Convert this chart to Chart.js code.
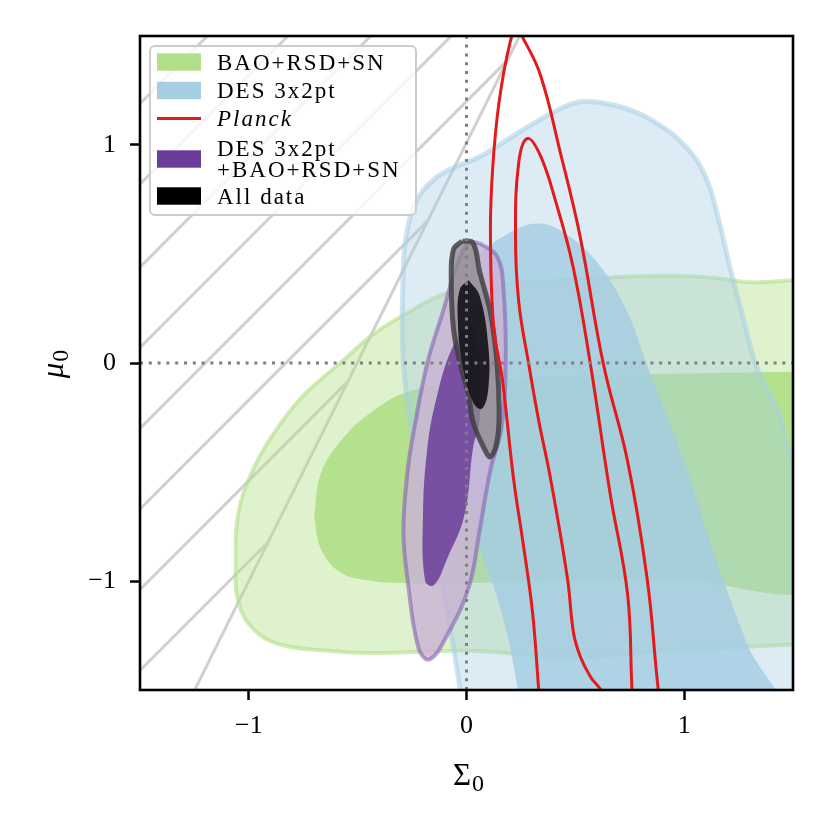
<!DOCTYPE html>
<html>
<head>
<meta charset="utf-8">
<script src="https://cdn.jsdelivr.net/npm/chart.js@4.4.1/dist/chart.umd.min.js"></script>
<style>
  html, body { margin: 0; padding: 0; background: #fff; }
  #wrap { width: 830px; height: 830px; }
</style>
</head>
<body>
<div id="wrap"><canvas id="plot"></canvas></div>
<script>
// axes
const axisRange = [-1.5, 1.5];
const xTicks = [-1, 0, 1];
const yTicks = [-1, 0, 1];
const tickLabels = ['\u22121', '0', '1'];

const seriesNames = ['BAO+RSD+SN', 'DES 3x2pt', 'Planck', 'DES 3x2pt\n+BAO+RSD+SN', 'All data'];

// excluded region: edge mu = a*Sigma + b, hatch lines mu = Sigma + k
const priorEdge = [2.01, 1.01];
const hatchOffsets = [2.69, 2.32, 1.94, 1.57, 1.20, 0.83, 0.46, 0.09];

// contour vertices [Sigma0, mu0]
const baoOuter = [[-0.58,0.00],[-0.75,-0.15],[-0.89,-0.33],[-0.99,-0.51],[-1.05,-0.70],[-1.06,-0.91],[-1.05,-1.09],[-0.98,-1.22],[-0.86,-1.29],[-0.64,-1.32],[-0.43,-1.33],[0.02,-1.32],[0.46,-1.35],[0.92,-1.32],[1.52,-1.29],[1.65,-1.28],[1.65,0.38],[1.52,0.38],[1.30,0.37],[1.15,0.39],[0.92,0.40],[0.61,0.39],[0.31,0.37],[0.00,0.34],[-0.12,0.31],[-0.27,0.23],[-0.43,0.13]];
const baoInner = [[-0.70,-0.70],[-0.67,-0.51],[-0.58,-0.36],[-0.43,-0.22],[-0.26,-0.13],[0.00,-0.09],[0.46,-0.06],[0.92,-0.05],[1.52,-0.04],[1.65,-0.04],[1.65,-0.99],[0.92,-0.99],[0.00,-1.01],[-0.27,-1.01],[-0.43,-1.00],[-0.58,-0.96],[-0.67,-0.85]];

const desOuter = [[-0.02,-1.60],[-0.03,-1.49],[-0.12,-0.97],[-0.20,-0.64],[-0.24,-0.39],[-0.29,0.00],[-0.29,0.44],[-0.27,0.62],[-0.22,0.76],[-0.14,0.85],[-0.05,0.90],[0.05,0.94],[0.15,1.00],[0.31,1.10],[0.46,1.18],[0.54,1.20],[0.69,1.18],[0.84,1.12],[1.00,1.00],[1.10,0.85],[1.16,0.65],[1.21,0.44],[1.27,0.21],[1.33,-0.01],[1.43,-0.22],[1.50,-0.44],[1.65,-0.62],[1.65,-1.60]];
const desInner = [[0.05,0.49],[0.15,0.57],[0.32,0.64],[0.46,0.59],[0.61,0.45],[0.74,0.23],[0.83,-0.01],[1.00,-0.45],[1.15,-0.91],[1.29,-1.29],[1.42,-1.60],[0.24,-1.60],[0.235,-1.49],[0.16,-1.14],[0.05,-0.80],[0.00,-0.50],[-0.01,0.00],[0.00,0.34]];

const planckOuter = [[0.34,-1.63],[0.331,-1.49],[0.303,-1.14],[0.262,-0.84],[0.216,-0.53],[0.164,-0.07],[0.125,0.16],[0.11,0.59],[0.12,0.89],[0.15,1.20],[0.20,1.47],[0.23,1.53],[0.26,1.49],[0.34,1.32],[0.43,0.97],[0.52,0.59],[0.63,-0.01],[0.74,-0.45],[0.83,-0.99],[0.88,-1.49],[0.90,-1.63]];
const planckInner = [[0.66,-1.56],[0.611,-1.49],[0.57,-1.44],[0.524,-1.35],[0.492,-1.24],[0.464,-0.99],[0.386,-0.53],[0.331,-0.26],[0.285,0.00],[0.24,0.28],[0.225,0.59],[0.24,0.92],[0.28,1.03],[0.34,0.95],[0.41,0.74],[0.49,0.44],[0.57,-0.01],[0.66,-0.60],[0.74,-1.06],[0.76,-1.49],[0.77,-1.63]];

const comboOuter = [[0.06,0.55],[0.14,0.49],[0.17,0.34],[0.18,0.00],[0.16,-0.30],[0.11,-0.49],[0.06,-0.77],[0.01,-1.03],[-0.09,-1.25],[-0.17,-1.36],[-0.22,-1.31],[-0.27,-1.00],[-0.29,-0.77],[-0.27,-0.49],[-0.24,-0.30],[-0.18,0.00],[-0.11,0.23],[-0.04,0.46],[0.01,0.55]];
const comboInner = [[0.02,0.20],[0.06,0.00],[0.06,-0.26],[0.03,-0.39],[-0.01,-0.70],[-0.09,-0.90],[-0.15,-1.02],[-0.19,-1.00],[-0.20,-0.70],[-0.18,-0.39],[-0.14,-0.17],[-0.07,0.06]];

const allOuter = [[-0.02,0.56],[0.03,0.55],[0.06,0.42],[0.11,0.23],[0.14,0.00],[0.15,-0.22],[0.14,-0.36],[0.11,-0.43],[0.08,-0.39],[0.03,-0.27],[0.01,-0.15],[-0.03,0.00],[-0.06,0.16],[-0.07,0.38],[-0.06,0.52]];
const allInner = [[0.01,0.38],[0.06,0.31],[0.10,0.08],[0.10,-0.12],[0.07,-0.21],[0.03,-0.18],[-0.02,0.00],[-0.04,0.20],[-0.03,0.34]];

const FONT = '"Liberation Serif", "DejaVu Serif", serif';
const legendColors = ['#b2df8a', '#a6cee3', '#e31a1c', '#6a3d9a', '#000000'];

const toXY = pts => pts.map(([x, y]) => ({x, y}));

function shape(pts, fillColor, lineColor, lineWidth, label) {
  return {
    label: label || '',
    data: toXY(pts.concat([pts[0]])),
    fill: 'shape',
    backgroundColor: fillColor,
    borderColor: lineColor || 'rgba(0,0,0,0)',
    borderWidth: lineWidth || 0,
    tension: 0.4
  };
}
function curve(pts, color, width, extra) {
  return Object.assign({
    data: toXY(pts),
    fill: false,
    borderColor: color,
    borderWidth: width,
    tension: 0.4
  }, extra || {});
}

// bottom to top
const layers = [];
hatchOffsets.forEach(k => {
  const xEnd = (k - priorEdge[1]) / (priorEdge[0] - 1);
  const xStart = axisRange[0] - 0.3;
  layers.push(curve([[xStart, xStart + k], [xEnd, xEnd + k]], '#d0d0d0', 3, {tension: 0}));
});
layers.push(curve([[(-1.7 - priorEdge[1]) / priorEdge[0], -1.7], [(1.7 - priorEdge[1]) / priorEdge[0], 1.7]], '#d0d0d0', 3, {tension: 0}));
layers.push(shape(baoOuter, 'rgba(178,223,138,0.42)', 'rgba(178,223,138,0.6)', 4, seriesNames[0]));
layers.push(shape(baoInner, 'rgba(178,223,138,0.95)'));
layers.push(shape(desOuter, 'rgba(166,206,227,0.38)', 'rgba(166,206,227,0.55)', 5, seriesNames[1]));
layers.push(shape(desInner, 'rgba(166,206,227,0.85)'));
layers.push(shape(comboOuter, 'rgba(202,178,214,0.8)', 'rgba(125,90,175,0.55)', 4, seriesNames[3]));
layers.push(shape(comboInner, 'rgba(106,61,154,0.85)'));
layers.push(shape(allOuter, 'rgba(140,138,142,0.75)', 'rgba(60,60,60,0.8)', 5, seriesNames[4]));
layers.push(shape(allInner, 'rgba(15,12,20,0.88)'));
layers.push(curve(planckOuter, '#e31a1c', 3, {label: seriesNames[2]}));
layers.push(curve(planckInner, '#e31a1c', 3));
layers.push(curve([[0, axisRange[0]], [0, axisRange[1]]], '#7f7f7f', 3, {tension: 0, borderDash: [3, 5.8]}));
layers.push(curve([[axisRange[0], 0], [axisRange[1], 0]], '#7f7f7f', 3, {tension: 0, borderDash: [3, 5.8]}));
layers.forEach((d, i) => { d.order = layers.length - i; d.clip = 0; });

const decor = {
  id: 'decor',
  afterDatasetsDraw(chart) {
    const {ctx, chartArea: a} = chart;
    ctx.save();
    ctx.strokeStyle = '#000';
    ctx.lineWidth = 2.6;
    ctx.strokeRect(a.left, a.top, a.right - a.left, a.bottom - a.top);
    ctx.restore();
  },
  afterDraw(chart) {
    const {ctx} = chart;
    ctx.save();
    // legend
    ctx.beginPath();
    ctx.roundRect(150, 46, 266, 169, 5);
    ctx.fillStyle = 'rgba(255,255,255,0.8)';
    ctx.fill();
    ctx.strokeStyle = '#cccccc';
    ctx.lineWidth = 2;
    ctx.stroke();
    const rows = [62, 90.5, 118.5, 159, 196];
    ctx.textAlign = 'left';
    ctx.textBaseline = 'alphabetic';
    if ('letterSpacing' in ctx) ctx.letterSpacing = '2px';
    seriesNames.forEach((name, i) => {
      const cy = rows[i];
      ctx.fillStyle = legendColors[i];
      if (i === 2) ctx.fillRect(157, cy - 1.5, 44, 3);
      else ctx.fillRect(157, cy - 8.7, 44, 17.4);
      ctx.fillStyle = '#000';
      ctx.font = (i === 2 ? 'italic ' : '') + '23px ' + FONT;
      const lines = name.split('\n');
      lines.forEach((t, j) => {
        const base = cy + 7.5 + (j - (lines.length - 1) / 2) * 20.5;
        ctx.fillText(t, 217, base);
      });
    });
    if ('letterSpacing' in ctx) ctx.letterSpacing = '0px';
    // axis titles
    ctx.fillStyle = '#000';
    ctx.font = '31px ' + FONT;
    const w1 = ctx.measureText('\u03A3').width;
    ctx.font = '24px ' + FONT;
    const w2 = ctx.measureText('0').width;
    const x0 = 468.5 - (w1 + w2 + 1) / 2;
    ctx.font = '31px ' + FONT;
    ctx.fillText('\u03A3', x0, 785);
    ctx.font = '24px ' + FONT;
    ctx.fillText('0', x0 + w1 + 1, 791);

    ctx.translate(63, 364);
    ctx.rotate(-Math.PI / 2);
    ctx.font = 'italic 31px ' + FONT;
    const m1 = ctx.measureText('\u03BC').width;
    ctx.font = '24px ' + FONT;
    const m2 = ctx.measureText('0').width;
    const s0 = -(m1 + m2 + 1) / 2;
    ctx.font = 'italic 31px ' + FONT;
    ctx.fillText('\u03BC', s0, 0);
    ctx.font = '24px ' + FONT;
    ctx.fillText('0', s0 + m1 + 1, 5);
    ctx.restore();
  }
};

function axis(ticksArr, isX) {
  return {
    type: 'linear',
    min: axisRange[0],
    max: axisRange[1],
    afterBuildTicks: s => { s.ticks = ticksArr.map(v => ({value: v})); },
    afterFit: s => { if (isX) s.height = 140; else s.width = 140; },
    ticks: {
      autoSkip: false,
      maxRotation: 0,
      color: '#000',
      padding: isX ? 11 : 14,
      font: {family: FONT, size: 26},
      callback: (v, i) => tickLabels[i]
    },
    grid: {drawOnChartArea: false, drawTicks: true, tickLength: 10, tickWidth: 2.5, tickColor: '#000'},
    border: {display: false}
  };
}

new Chart(document.getElementById('plot'), {
  type: 'scatter',
  data: {datasets: layers},
  options: {
    responsive: true,
    maintainAspectRatio: false,
    animation: false,
    events: [],
    showLine: true,
    layout: {padding: {top: 36, right: 37, left: 0, bottom: 0}},
    elements: {point: {radius: 0}, line: {capBezierPoints: false}},
    scales: {x: axis(xTicks, true), y: axis(yTicks, false)},
    plugins: {legend: {display: false}, tooltip: {enabled: false}}
  },
  plugins: [decor]
});
</script>
</body>
</html>
